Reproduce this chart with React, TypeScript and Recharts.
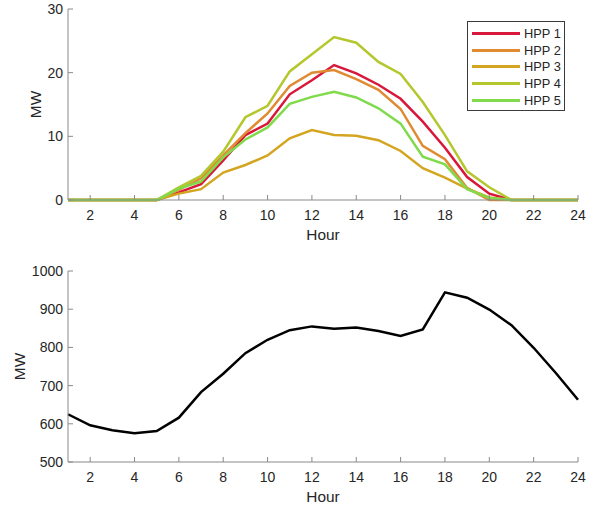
import { LineChart, Line, XAxis, YAxis, Legend } from 'recharts';

const hours = [1, 2, 3, 4, 5, 6, 7, 8, 9, 10, 11, 12, 13, 14, 15, 16, 17, 18, 19, 20, 21, 22, 23, 24];
const hpp1 = [0, 0, 0, 0, 0, 1.2, 2.5, 6.2, 10.2, 12.0, 16.6, 18.8, 21.2, 19.9, 18.1, 15.9, 12.3, 8.2, 3.6, 1.0, 0, 0, 0, 0];
const hpp2 = [0, 0, 0, 0, 0, 1.6, 3.4, 7.0, 10.5, 13.6, 17.9, 20.0, 20.4, 19.0, 17.3, 14.3, 8.5, 6.4, 1.9, 0, 0, 0, 0, 0];
const hpp3 = [0, 0, 0, 0, 0, 1.0, 1.7, 4.3, 5.5, 7.0, 9.7, 11.0, 10.2, 10.1, 9.4, 7.7, 5.0, 3.5, 1.8, 0.4, 0, 0, 0, 0];
const hpp4 = [0, 0, 0, 0, 0, 2.0, 3.8, 7.6, 13.0, 14.8, 20.2, 22.9, 25.6, 24.7, 21.7, 19.8, 15.4, 10.2, 4.5, 2.0, 0, 0, 0, 0];
const hpp5 = [0, 0, 0, 0, 0, 1.8, 2.9, 6.7, 9.5, 11.4, 15.1, 16.2, 17.0, 16.1, 14.4, 12.0, 6.8, 5.6, 1.7, 0.3, 0, 0, 0, 0];
const load = [625, 596, 583, 575, 581, 616, 683, 731, 785, 820, 845, 855, 849, 852, 843, 830, 847, 944, 930, 899, 858, 799, 733, 663];

const xTicks = [2, 4, 6, 8, 10, 12, 14, 16, 18, 20, 22, 24];
const topTicks = [0, 10, 20, 30];
const bottomTicks = [500, 600, 700, 800, 900, 1000];

const series = [
  { key: 'hpp1', name: 'HPP 1', color: '#d8173a', values: hpp1 },
  { key: 'hpp2', name: 'HPP 2', color: '#e08a32', values: hpp2 },
  { key: 'hpp3', name: 'HPP 3', color: '#d4a520', values: hpp3 },
  { key: 'hpp4', name: 'HPP 4', color: '#b4c72d', values: hpp4 },
  { key: 'hpp5', name: 'HPP 5', color: '#80db4c', values: hpp5 },
];

const topData = hours.map((h, i) => {
  const row: Record<string, number> = { hour: h };
  series.forEach((s) => {
    row[s.key] = s.values[i];
  });
  return row;
});
const bottomData = hours.map((h, i) => ({ hour: h, load: load[i] }));

const FONT = '"Liberation Sans", Arial, Helvetica, sans-serif';
const TEXT = '#262626';
const FRAME = '#8a8a8a';
const tickStyle = { fontSize: 14, fill: TEXT, fontFamily: FONT };

// rotated "MW" label, dx = distance of its centre from the left edge
function YLabel(props: any) {
  const vb = props.viewBox || {};
  const x = (vb.x || 0) + props.dx;
  const y = vb.y + vb.height / 2;
  return (
    <text
      x={x}
      y={y}
      dy="0.36em"
      transform={`rotate(-90, ${x}, ${y})`}
      textAnchor="middle"
      fontSize={15.4}
      fill={TEXT}
      fontFamily={FONT}
    >
      MW
    </text>
  );
}

function LegendBox() {
  return (
    <div
      style={{
        border: '1px solid #3a3a3a',
        background: '#fff',
        width: 96,
        height: 85,
        paddingTop: 3,
        fontFamily: FONT,
        fontSize: 12.8,
        color: TEXT,
      }}
    >
      {series.map((s) => (
        <div key={s.key} style={{ display: 'flex', alignItems: 'center', height: 16.8 }}>
          <div style={{ width: 48, height: 3, background: s.color, marginLeft: 4, marginRight: 4 }} />
          <span>{s.name}</span>
        </div>
      ))}
    </div>
  );
}

export default function App() {
  return (
    <div style={{ position: 'absolute', left: 0, top: 0, width: 599, height: 508, background: '#fff' }}>
      <LineChart width={599} height={250} data={topData} margin={{ top: 9, right: 21, bottom: 0, left: 0 }}>
        <XAxis
          xAxisId="b"
          dataKey="hour"
          type="number"
          domain={[1, 24]}
          ticks={xTicks}
          height={50}
          tickSize={-5}
          tickMargin={15}
          stroke={FRAME}
          tick={tickStyle}
          label={{ value: 'Hour', position: 'insideBottom', offset: 10, fontSize: 15.4, fill: TEXT, fontFamily: FONT }}
        />
        <XAxis
          xAxisId="t"
          orientation="top"
          dataKey="hour"
          type="number"
          domain={[1, 24]}
          ticks={xTicks}
          height={0}
          tickSize={-5}
          stroke={FRAME}
          tick={false}
        />
        <YAxis
          yAxisId="l"
          type="number"
          domain={[0, 30]}
          ticks={topTicks}
          width={68}
          tickSize={-5}
          tickMargin={10}
          stroke={FRAME}
          tick={tickStyle}
          label={<YLabel dx={35} />}
        />
        <YAxis
          yAxisId="r"
          orientation="right"
          type="number"
          domain={[0, 30]}
          ticks={topTicks}
          width={0}
          tickSize={-5}
          stroke={FRAME}
          tick={false}
        />
        {series.map((s) => (
          <Line
            key={s.key}
            xAxisId="b"
            yAxisId="l"
            type="linear"
            dataKey={s.key}
            name={s.name}
            stroke={s.color}
            strokeWidth={2.5}
            dot={false}
            isAnimationActive={false}
          />
        ))}
        <Legend
          layout="vertical"
          align="center"
          verticalAlign="middle"
          content={<LegendBox />}
          wrapperStyle={{ position: 'absolute', left: 467, top: 21, width: 98 }}
        />
      </LineChart>
      <LineChart width={599} height={258} data={bottomData} margin={{ top: 21, right: 21, bottom: 0, left: 0 }}>
        <XAxis
          xAxisId="b"
          dataKey="hour"
          type="number"
          domain={[1, 24]}
          ticks={xTicks}
          height={46}
          tickSize={-5}
          tickMargin={15}
          stroke={FRAME}
          tick={tickStyle}
          label={{ value: 'Hour', position: 'insideBottom', offset: 6, fontSize: 15.4, fill: TEXT, fontFamily: FONT }}
        />
        <XAxis
          xAxisId="t"
          orientation="top"
          dataKey="hour"
          type="number"
          domain={[1, 24]}
          ticks={xTicks}
          height={0}
          tickSize={-5}
          stroke={FRAME}
          tick={false}
        />
        <YAxis
          yAxisId="l"
          type="number"
          domain={[500, 1000]}
          ticks={bottomTicks}
          width={68}
          tickSize={-5}
          tickMargin={10}
          stroke={FRAME}
          tick={tickStyle}
          label={<YLabel dx={19} />}
        />
        <YAxis
          yAxisId="r"
          orientation="right"
          type="number"
          domain={[500, 1000]}
          ticks={bottomTicks}
          width={0}
          tickSize={-5}
          stroke={FRAME}
          tick={false}
        />
        <Line
          xAxisId="b"
          yAxisId="l"
          type="linear"
          dataKey="load"
          stroke="#000"
          strokeWidth={2.5}
          dot={false}
          isAnimationActive={false}
        />
      </LineChart>
    </div>
  );
}
